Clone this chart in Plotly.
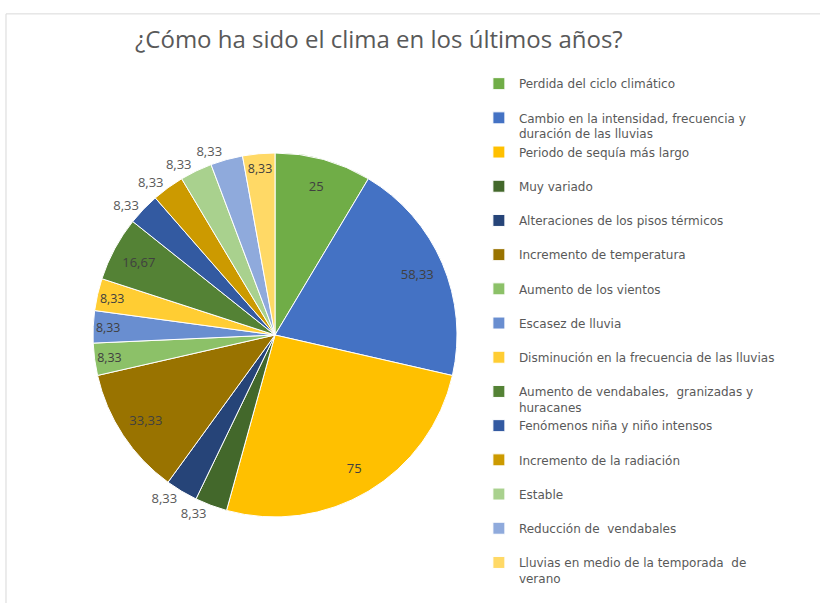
import plotly.graph_objects as go

# respuestas: porcentaje de encuestados
categorias = [
    "Perdida del ciclo climático",
    "Cambio en la intensidad, frecuencia y<br>duración de las lluvias",
    "Periodo de sequía más largo",
    "Muy variado",
    "Alteraciones de los pisos térmicos",
    "Incremento de temperatura",
    "Aumento de los vientos",
    "Escasez de lluvia",
    "Disminución en la frecuencia de las lluvias",
    "Aumento de vendabales,  granizadas y<br>huracanes",
    "Fenómenos niña y niño intensos",
    "Incremento de la radiación",
    "Estable",
    "Reducción de  vendabales",
    "Lluvias en medio de la temporada  de<br>verano",
]
valores = [25, 58.33, 75, 8.33, 8.33, 33.33, 8.33, 8.33, 8.33, 16.67, 8.33, 8.33, 8.33, 8.33, 8.33]
etiquetas = [str(v).replace(".", ",") for v in valores]

colores = ["#70AD47", "#4472C4", "#FFC000", "#43682B", "#264478", "#997300",
           "#8CC168", "#698ED0", "#FFCD33", "#548235", "#335AA1", "#CC9A00",
           "#A9D18E", "#8FAADC", "#FFD966"]
# 0 = dentro, 1 y 2 = fuera (en dos capas para que plotly no las desplace)
ubicacion = [0, 0, 0, 1, 2, 0, 0, 0, 0, 0, 2, 1, 2, 1, 0]

# las entradas de una linea se rellenan para que todas ocupen lo mismo
nombres = [c if "<br>" in c else c + "<br> " for c in categorias]

r = 182
cx, cy = 275, 335
dominio = dict(x=[(cx - r) / 820, (cx + r) / 820],
               y=[1 - (cy + r) / 603, 1 - (cy - r) / 603])
transparente = ["rgba(0,0,0,0)"] * len(valores)

# pastel con colores (sin texto)
fig = go.Figure(go.Pie(
    labels=nombres,
    values=valores,
    textinfo="none",
    marker=dict(colors=colores, line=dict(color="white", width=1)),
    sort=False,
    direction="clockwise",
    rotation=0,
    text=etiquetas,
    hoverinfo="label+text",
    domain=dominio,
))

# etiquetas internas: anillo transparente para llevarlas hacia el borde
fig.add_trace(go.Pie(
    labels=nombres,
    values=valores,
    text=etiquetas,
    textinfo="text",
    textposition=["inside" if u == 0 else "none" for u in ubicacion],
    insidetextorientation="horizontal",
    insidetextfont=dict(color="#404040", size=13, family="Open Sans"),
    marker=dict(colors=transparente, line=dict(width=0)),
    hole=0.7,
    sort=False,
    direction="clockwise",
    rotation=0,
    hoverinfo="skip",
    showlegend=False,
    domain=dominio,
))

# etiquetas externas
for capa in (1, 2):
    fig.add_trace(go.Pie(
        labels=nombres,
        values=valores,
        text=etiquetas,
        textinfo="text",
        textposition=["outside" if u == capa else "none" for u in ubicacion],
        outsidetextfont=dict(color="#595959", size=13, family="Open Sans"),
        marker=dict(colors=transparente, line=dict(width=0)),
        sort=False,
        direction="clockwise",
        rotation=0,
        hoverinfo="skip",
        showlegend=False,
        domain=dominio,
    ))

fig.add_shape(type="rect", xref="paper", yref="paper",
              x0=0.0073, x1=1.01, y0=-0.01, y1=0.977,
              line=dict(color="#D9D9D9", width=1))

fig.update_layout(
    width=820, height=603,
    margin=dict(l=0, r=0, t=0, b=0),
    paper_bgcolor="white",
    title=dict(text="¿Cómo ha sido el clima en los últimos años?",
               x=0.462, xanchor="center", y=0.935, yanchor="middle",
               font=dict(size=24, color="#595959", family="Open Sans")),
    legend=dict(x=0.584, xanchor="left", y=0.885, yanchor="top",
                valign="top", traceorder="normal",
                font=dict(size=12, color="#595959", family="DejaVu Sans"),
                bgcolor="rgba(0,0,0,0)"),
    showlegend=True,
)

# quitar el margen por defecto del body para que la figura quede en (0,0)
fig.write_html("out.html", config={"displayModeBar": False},
               post_script="document.body.style.margin='0px';")
